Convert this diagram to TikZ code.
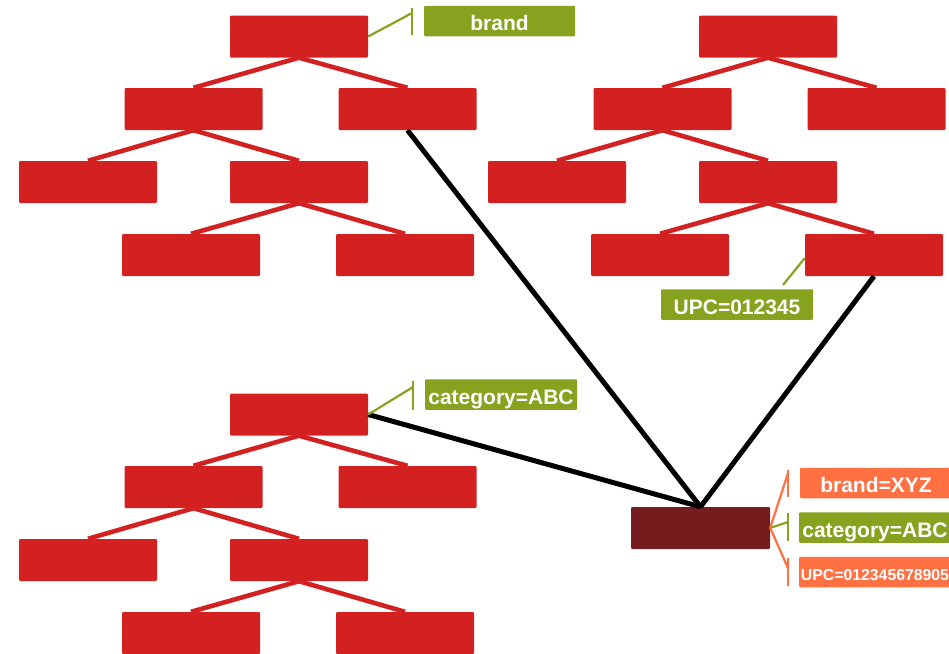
\documentclass[tikz,border=0pt]{standalone}
\usepackage{fontspec}
\setmainfont{Liberation Sans}
\begin{document}
\definecolor{treered}{RGB}{211,32,33}
\definecolor{darkred}{RGB}{117,29,30}
\definecolor{olive}{RGB}{134,162,31}
\definecolor{tagorange}{RGB}{255,112,67}
\begin{tikzpicture}[x=1pt,y=-1pt,
  rbox/.style={rectangle, fill=treered, minimum width=138pt, minimum height=42pt,
               inner sep=0pt, rounded corners=1.2pt},
  hit/.style={rbox, fill=darkred},
  branch/.style={treered, line width=4.6pt},
  link/.style={black, line width=5pt},
  tag/.style={rectangle, text=white, inner sep=0pt, minimum width=152pt,
              minimum height=30.5pt, rounded corners=1pt,
              text height=19.5pt, text depth=0pt,
              font=\bfseries\fontsize{21}{21}\selectfont},
  greentag/.style={tag, fill=olive},
  orangetag/.style={tag, fill=tagorange},
  greenline/.style={olive, line width=2.2pt},
  orangeline/.style={tagorange, line width=2.2pt}]
\useasboundingbox (0,0) rectangle (949,653);
\clip (0,0) rectangle (949,653);

% three identical trees
\foreach \p/\dx/\dy in {a/0/0, b/469/0, c/0/378}{
  \begin{scope}[shift={(\dx,\dy)}]
    \node[rbox] (\p r)  at (299,36.5) {};
    \node[rbox] (\p l)  at (193.5,109) {};
    \node[rbox] (\p rr) at (407.5,109) {};
    \node[rbox] (\p ll) at (88,182) {};
    \node[rbox] (\p lr) at (299,182) {};
    \node[rbox] (\p lrl) at (191,255) {};
    \node[rbox] (\p lrr) at (405,255) {};
    \draw[branch] (\p r.south) -- (\p l.north);
    \draw[branch] (\p r.south) -- (\p rr.north);
    \draw[branch] (\p l.south) -- (\p ll.north);
    \draw[branch] (\p l.south) -- (\p lr.north);
    \draw[branch] (\p lr.south) -- (\p lrl.north);
    \draw[branch] (\p lr.south) -- (\p lrr.north);
  \end{scope}
}

% combined record
\node[hit, minimum width=139pt] (hit) at (700.5,528) {};
\draw[link] (arr.south) -- (hit.north);
\draw[link] (blrr.south) -- (hit.north);
\draw[link] (cr.east) -- (hit.north);

% callouts on the trees
\node[greentag, minimum width=151pt] (brand) at (499.5,21) {brand};
\coordinate (brandpin) at (412,13);
\draw[greenline] (ar.east) -- (brandpin);
\draw[greenline] (412,8) -- (412,35);

\node[greentag] (upc) at (737,304.5) {UPC=012345};
\coordinate (upcpin) at (783,285);
\draw[greenline] (upcpin) -- ([yshift=-3pt]blrr.west);

\node[greentag] (cat) at (501,394.5) {category=ABC};
\coordinate (catpin) at (413,387);
\draw[greenline] (cr.east) -- (catpin);
\draw[greenline] (413,381) -- (413,410);

% callouts on the combined record
\node[orangetag] (xyz) at (876,483) {brand=XYZ};
\node[greentag] (cat2) at (875,527.5) {category=ABC};
\node[orangetag, text height=17.5pt, font=\bfseries\fontsize{15.8}{16}\selectfont] (upc2) at (875,572) {UPC=012345678905};
\coordinate (pinA) at (788,473);
\coordinate (pinB) at (788,522);
\coordinate (pinC) at (788,568);
\draw[orangeline] (hit.east) -- (pinA);
\draw[greenline] (hit.east) -- (pinB);
\draw[orangeline] (hit.east) -- (pinC);
\draw[orangeline] (788,470) -- (788,497);
\draw[greenline] (788,513) -- (788,541);
\draw[orangeline] (788,558) -- (788,586);
\end{tikzpicture}
\end{document}
